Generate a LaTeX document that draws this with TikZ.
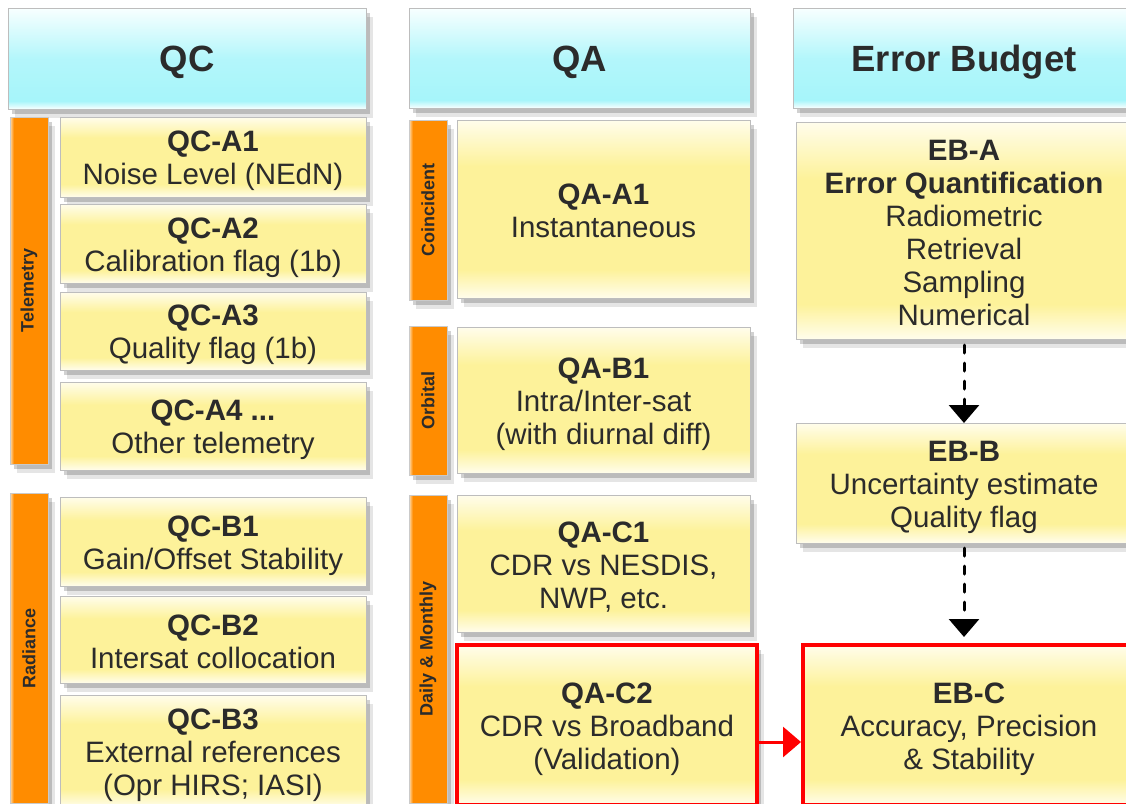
\documentclass[tikz,border=0pt]{standalone}
\usepackage{fontspec}
\setmainfont{Liberation Sans}
\usetikzlibrary{shadows,arrows.meta}
\definecolor{txt}{HTML}{2B2B2B}
\definecolor{cyanS}{HTML}{A6F5FA}
\definecolor{cyanW}{HTML}{F8FFFF}
\definecolor{yelS}{HTML}{FDF29A}
\definecolor{yelW}{HTML}{FFFDEC}
\definecolor{orS}{HTML}{FF8C00}
\definecolor{orW}{HTML}{FFDDB0}
\definecolor{bgray}{HTML}{BDBDBD}
\definecolor{redB}{HTML}{FF0000}
\pgfdeclareverticalshading{hdrshade}{100bp}{color(0bp)=(cyanW); color(25bp)=(cyanW); color(29bp)=(cyanS); color(50bp)=(cyanS!85!white); color(75bp)=(cyanW); color(100bp)=(cyanW)}
\pgfdeclareverticalshading{yshade}{100bp}{color(0bp)=(yelW); color(25bp)=(yelW); color(33bp)=(yelS); color(62bp)=(yelS); color(75bp)=(yelW); color(100bp)=(yelW)}
\pgfdeclarehorizontalshading{barshade}{100bp}{color(0bp)=(orW); color(25bp)=(orW); color(30bp)=(orS); color(100bp)=(orS)}
\newcommand{\toprule}[1]{\rule{0pt}{#1}}
\newcommand{\botrule}[1]{\rule[-#1]{0pt}{#1}}
\newcommand{\ttl}[1]{\rule{0pt}{29pt}\textbf{#1}}
\newcommand{\lst}[1]{#1\rule[-5pt]{0pt}{5pt}}
\begin{document}
\begin{tikzpicture}[x=1pt,y=-1pt,
  shadowy/.style={drop shadow={shadow xshift=4pt,shadow yshift=-5pt,opacity=0.18,fill=black},
                  drop shadow={shadow xshift=7pt,shadow yshift=-9pt,opacity=0.10,fill=black}},
  hdr/.style={shading=hdrshade, draw=bgray, line width=0.8pt, inner sep=0pt, outer sep=0pt,
              anchor=north west, text=txt, font=\fontsize{36.5}{42}\selectfont\bfseries, shadowy,
              execute at begin node=\toprule{34pt}, execute at end node=\botrule{5pt}},
  ybox/.style={shading=yshade, draw=bgray, line width=0.8pt, inner sep=0pt, outer sep=0pt,
               anchor=north west, align=center, text=txt, font=\fontsize{29.5}{33}\selectfont, shadowy},
  redbox/.style={ybox, draw=redB, line width=4pt},
  bar/.style={shading=barshade, draw=bgray!80, line width=0.6pt, inner sep=0pt, outer sep=0pt,
              anchor=north west, minimum width=38pt, shadowy},
  barlabel/.style={rotate=90, text=txt, font=\fontsize{18}{20}\selectfont\bfseries},
  dasharrow/.style={draw=black, line width=3pt, line cap=round, dash pattern=on 8pt off 10pt,
                    -{Triangle[width=30pt,length=18pt]}},
  redarrow/.style={draw=redB, line width=3pt, -{Triangle[width=30pt,length=18pt]}}
]
\useasboundingbox (0,0) rectangle (1126,803);
\fill[white] (0,0) rectangle (1126,803);

% headers
\node[hdr, minimum width=358pt, minimum height=101pt] (hqc) at (8,8) {QC};
\node[hdr, minimum width=341pt, minimum height=100pt] (hqa) at (409,8) {QA};
\node[hdr, minimum width=342pt, minimum height=100pt] (heb) at (793,8) {Error Budget};

% side bars
\node[bar, minimum height=347pt] (tel) at (10,117) {};
\node[barlabel] (tell) at (tel.center) {Telemetry};
\node[bar, minimum height=310pt] (rad) at (10,493) {};
\node[barlabel] (radl) at (rad.center) {Radiance};
\node[bar, minimum height=180pt] (coin) at (409,120) {};
\node[barlabel] (coinl) at (coin.center) {Coincident};
\node[bar, minimum height=149pt] (orb) at (409,326) {};
\node[barlabel] (orbl) at (orb.center) {Orbital};
\node[bar, minimum height=308pt] (dm) at (409,495) {};
\node[barlabel] (dml) at (dm.center) {Daily \& Monthly};

% QC boxes
\node[ybox, minimum width=306pt, minimum height=80pt] (qca1) at (60,117) {\ttl{QC-A1}\\\lst{Noise Level (NEdN)}};
\node[ybox, minimum width=306pt, minimum height=79pt] (qca2) at (60,204) {\ttl{QC-A2}\\\lst{Calibration flag (1b)}};
\node[ybox, minimum width=306pt, minimum height=78pt] (qca3) at (60,292) {\ttl{QC-A3}\\\lst{Quality flag (1b)}};
\node[ybox, minimum width=306pt, minimum height=88pt] (qca4) at (60,382) {\ttl{QC-A4 ...}\\\lst{Other telemetry}};
\node[ybox, minimum width=306pt, minimum height=89pt] (qcb1) at (60,497) {\ttl{QC-B1}\\\lst{Gain/Offset Stability}};
\node[ybox, minimum width=306pt, minimum height=87pt] (qcb2) at (60,596) {\ttl{QC-B2}\\\lst{Intersat collocation}};
\node[ybox, minimum width=306pt, minimum height=112pt] (qcb3) at (60,695) {\ttl{QC-B3}\\External references\\\lst{(Opr HIRS; IASI)}};

% QA boxes
\node[ybox, minimum width=293pt, minimum height=178pt] (qaa1) at (457,120) {\ttl{QA-A1}\\\lst{Instantaneous}};
\node[ybox, minimum width=293pt, minimum height=146pt] (qab1) at (457,327) {\ttl{QA-B1}\\Intra/Inter-sat\\\lst{(with diurnal diff)}};
\node[ybox, minimum width=293pt, minimum height=137pt] (qac1) at (457,495) {\ttl{QA-C1}\\CDR vs NESDIS,\\\lst{NWP, etc.}};
\node[redbox, minimum width=300pt, minimum height=160pt] (qac2) at (457,645) {\ttl{QA-C2}\\CDR vs Broadband\\\lst{(Validation)}};

% EB boxes
\node[ybox, minimum width=336pt, minimum height=217pt] (eba) at (796,122) {\ttl{EB-A}\\\textbf{Error Quantification}\\Radiometric\\Retrieval\\Sampling\\\lst{Numerical}};
\node[ybox, minimum width=336pt, minimum height=120pt] (ebb) at (796,423) {\ttl{EB-B}\\Uncertainty estimate\\\lst{Quality flag}};
\node[redbox, minimum width=332pt, minimum height=160pt] (ebc) at (803,645) {\ttl{EB-C}\\Accuracy, Precision\\\lst{\& Stability}};

% connectors
\draw[dasharrow] ([yshift=-6pt]eba.south) -- (ebb.north);
\draw[dasharrow] ([yshift=-5pt]ebb.south) -- ([yshift=8pt]ebb.south |- ebc.north);
\draw[redarrow] ([yshift=-17pt]qac2.east) -- ([yshift=-17pt,xshift=-2pt]qac2.east -| ebc.west);
\end{tikzpicture}
\end{document}
